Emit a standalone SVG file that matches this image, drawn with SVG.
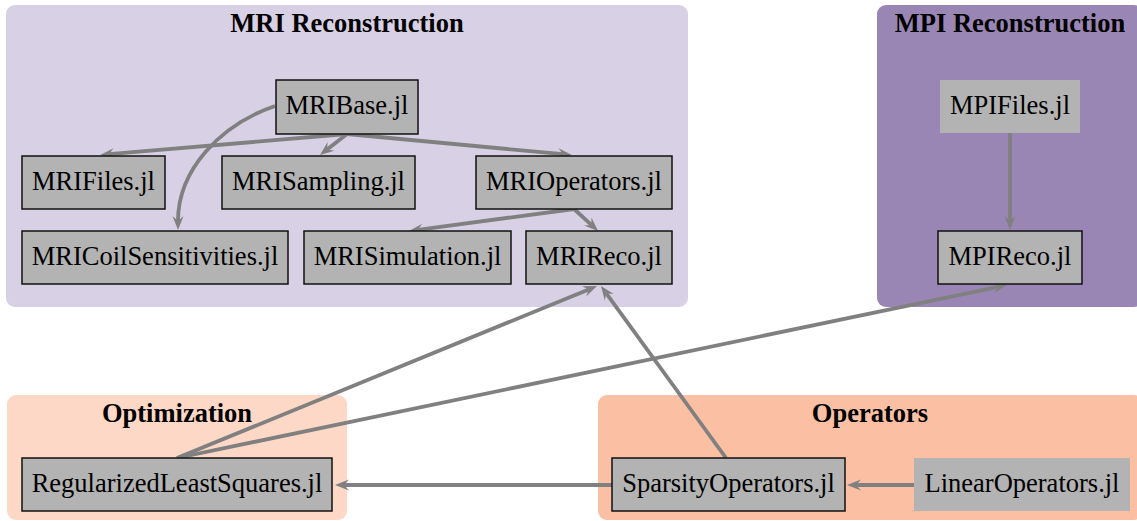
<svg xmlns="http://www.w3.org/2000/svg" width="1137" height="521" viewBox="0 0 1137 521">
  <style>
    .cluster-title { font-family: "Liberation Serif", "Times New Roman", serif; font-weight: bold; font-size: 26.5px; fill: #000; text-anchor: middle; }
    .node rect { fill: #b3b3b3; stroke: #111; stroke-width: 1.5; }
    .node.plain rect { stroke: none; }
    .node text { font-family: "Liberation Serif", "Times New Roman", serif; font-size: 26.5px; fill: #000; text-anchor: middle; }
    .edge { fill: none; stroke: #808080; stroke-width: 3.8; marker-end: url(#arrow); }
  </style>
  <defs>
    <marker id="arrow" markerUnits="userSpaceOnUse" markerWidth="14" markerHeight="11" refX="5" refY="5.5" orient="auto" overflow="visible">
      <path d="M0,0 L14,5.5 L0,11 L5,5.5 z" fill="#808080"/>
    </marker>
  </defs>

  <!-- package groups -->
  <g id="cluster-mri">
    <rect x="6" y="5" width="682" height="302" rx="9" fill="#d8d0e4"/>
    <text class="cluster-title" x="347" y="32">MRI Reconstruction</text>
  </g>
  <g id="cluster-mpi">
    <rect x="877" y="5" width="266" height="302" rx="9" fill="#9a86b4"/>
    <text class="cluster-title" x="1010" y="32">MPI Reconstruction</text>
  </g>
  <g id="cluster-optimization">
    <rect x="7" y="395" width="340" height="125" rx="9" fill="#fdd8c6"/>
    <text class="cluster-title" x="177" y="422">Optimization</text>
  </g>
  <g id="cluster-operators">
    <rect x="598" y="395" width="545" height="125" rx="9" fill="#fbc0a3"/>
    <text class="cluster-title" x="870" y="422">Operators</text>
  </g>

  <!-- dependency edges -->
  <g id="edges">
    <path class="edge" d="M347,134 L109,154.2"/>
    <path class="edge" d="M347,134 L327.1,149.5"/>
    <path class="edge" d="M347,134 L563,154.2"/>
    <path class="edge" d="M275,106 C220,125 178,170 178,221"/>
    <path class="edge" d="M574,209 L417.9,229.8"/>
    <path class="edge" d="M574,209 L591.4,224.9"/>
    <path class="edge" d="M177,458 L588.7,289.4"/>
    <path class="edge" d="M177,458 L998.2,286.8"/>
    <path class="edge" d="M726,458 L606.3,293.3"/>
    <path class="edge" d="M612,485 L344,485"/>
    <path class="edge" d="M914,485 L856,485"/>
    <path class="edge" d="M1010,133 L1010,221"/>
  </g>

  <!-- packages -->
  <g id="MRIBase" class="node">
    <rect x="276" y="80" width="142" height="54"/>
    <text x="347" y="114">MRIBase.jl</text>
  </g>
  <g id="MRIFiles" class="node">
    <rect x="22" y="156" width="143" height="53"/>
    <text x="93.5" y="190">MRIFiles.jl</text>
  </g>
  <g id="MRISampling" class="node">
    <rect x="222" y="156" width="193" height="53"/>
    <text x="318.5" y="190">MRISampling.jl</text>
  </g>
  <g id="MRIOperators" class="node">
    <rect x="476" y="156" width="196" height="53"/>
    <text x="574" y="190">MRIOperators.jl</text>
  </g>
  <g id="MRICoilSensitivities" class="node">
    <rect x="22" y="231" width="266" height="53"/>
    <text x="155" y="265">MRICoilSensitivities.jl</text>
  </g>
  <g id="MRISimulation" class="node">
    <rect x="304" y="231" width="207" height="53"/>
    <text x="407.5" y="265">MRISimulation.jl</text>
  </g>
  <g id="MRIReco" class="node">
    <rect x="526" y="231" width="146" height="53"/>
    <text x="599" y="265">MRIReco.jl</text>
  </g>
  <g id="MPIFiles" class="node plain">
    <rect x="940" y="80" width="140" height="53"/>
    <text x="1010" y="114">MPIFiles.jl</text>
  </g>
  <g id="MPIReco" class="node">
    <rect x="938" y="231" width="144" height="53"/>
    <text x="1010" y="265">MPIReco.jl</text>
  </g>
  <g id="RegularizedLeastSquares" class="node">
    <rect x="22" y="458" width="310" height="53"/>
    <text x="177" y="492">RegularizedLeastSquares.jl</text>
  </g>
  <g id="SparsityOperators" class="node">
    <rect x="612" y="458" width="233" height="53"/>
    <text x="728.5" y="492">SparsityOperators.jl</text>
  </g>
  <g id="LinearOperators" class="node plain">
    <rect x="914" y="458" width="216" height="53"/>
    <text x="1022" y="492">LinearOperators.jl</text>
  </g>
</svg>
